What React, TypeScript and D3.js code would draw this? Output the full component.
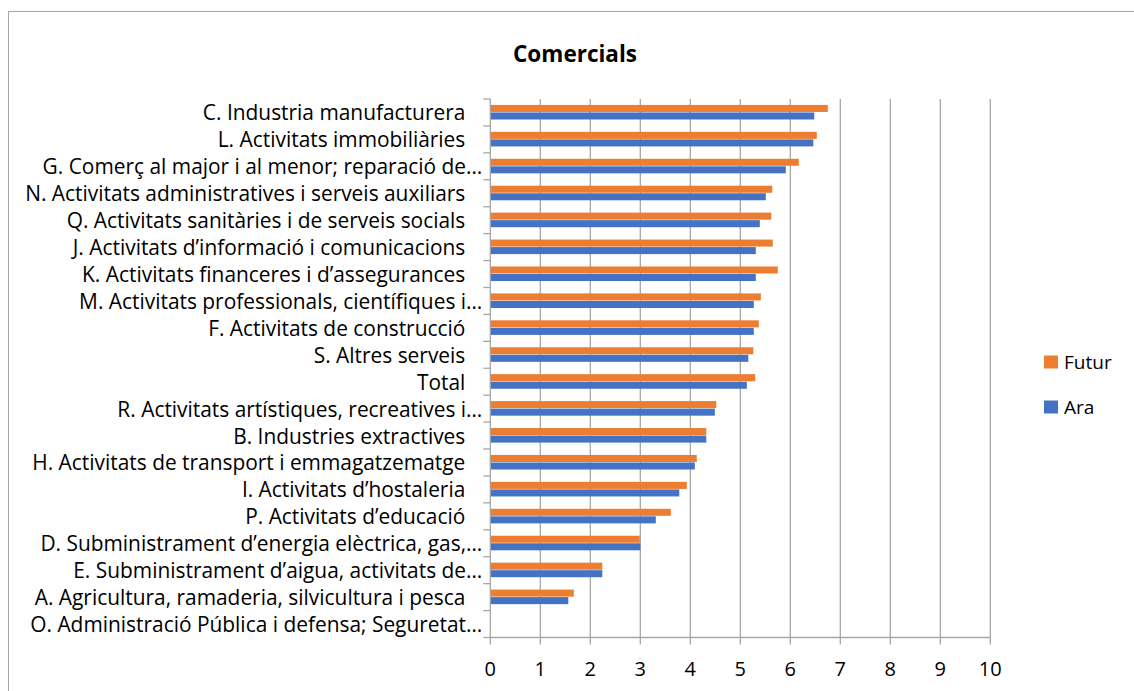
import { useEffect, useRef } from 'react';
import * as d3 from 'd3';

const categories = [
  "C. Industria manufacturera",
  "L. Activitats immobiliàries",
  "G. Comerç al major i al menor; reparació de…",
  "N. Activitats administratives i serveis auxiliars",
  "Q. Activitats sanitàries i de serveis socials",
  "J. Activitats d’informació i comunicacions",
  "K. Activitats financeres i d’assegurances",
  "M. Activitats professionals, científiques i…",
  "F. Activitats de construcció",
  "S. Altres serveis",
  "Total",
  "R. Activitats artístiques, recreatives i…",
  "B. Industries extractives",
  "H. Activitats de transport i emmagatzematge",
  "I. Activitats d’hostaleria",
  "P. Activitats d’educació",
  "D. Subministrament d’energia elèctrica, gas,…",
  "E. Subministrament d’aigua, activitats de…",
  "A. Agricultura, ramaderia, silvicultura i pesca",
  "O. Administració Pública i defensa; Seguretat…",
];

const futurValues = [6.75, 6.53, 6.17, 5.64, 5.62, 5.65, 5.75, 5.41, 5.37, 5.26, 5.30, 4.52, 4.32, 4.13, 3.93, 3.61, 2.99, 2.24, 1.67, 0];
const araValues = [6.48, 6.46, 5.91, 5.51, 5.39, 5.31, 5.31, 5.27, 5.27, 5.16, 5.13, 4.49, 4.32, 4.09, 3.78, 3.31, 3.0, 2.24, 1.56, 0];

const seriesNames = ["Futur", "Ara"];
const xTicks = [0, 1, 2, 3, 4, 5, 6, 7, 8, 9, 10];

const COLORS: Record<string, string> = { Futur: "#ED7D31", Ara: "#4472C4" };
const FONT = "'Open Sans', 'Noto Sans', sans-serif";

export default function App() {
  const svgRef = useRef<SVGSVGElement>(null);

  useEffect(() => {
    if (!svgRef.current) return;
    const svg = d3.select(svgRef.current);
    svg.selectAll("*").remove();

    const W = 1134, H = 691;
    const left = 490.3, right = 990.3, top = 99, bottom = 637.5;

    // chart area border
    svg.append("rect")
      .attr("x", 8.5).attr("y", 11.5)
      .attr("width", W).attr("height", H)
      .attr("fill", "#fff")
      .attr("stroke", "#a6a6a6");

    svg.append("text")
      .attr("x", 575).attr("y", 53)
      .attr("text-anchor", "middle").attr("dominant-baseline", "central")
      .style("font-family", FONT).style("font-weight", "bold").style("font-size", "22.5px")
      .attr("fill", "#000")
      .text("Comercials");

    const x = d3.scaleLinear().domain([0, 10]).range([left, right]);
    const y = d3.scaleBand().domain(categories).range([top, bottom])
      .paddingInner(0.44).paddingOuter(0.22);
    const ySub = d3.scaleBand().domain(seriesNames).range([0, y.bandwidth()]);
    const step = y.step();

    // vertical gridlines
    svg.append("g").selectAll("line")
      .data(xTicks.slice(1))
      .join("line")
      .attr("x1", d => x(d)).attr("x2", d => x(d))
      .attr("y1", top).attr("y2", bottom)
      .attr("stroke", "#a6a6a6").attr("stroke-width", 1.3);

    // bars
    const rows = categories.map((c, i) => ({ c, vals: [futurValues[i], araValues[i]] }));
    const groups = svg.append("g").selectAll("g")
      .data(rows)
      .join("g")
      .attr("transform", d => `translate(0,${y(d.c)})`);
    groups.selectAll("rect")
      .data(d => d.vals.map((v, k) => ({ s: seriesNames[k], v })))
      .join("rect")
      .attr("x", x(0))
      .attr("y", d => ySub(d.s)!)
      .attr("width", d => x(d.v) - x(0))
      .attr("height", ySub.bandwidth() - 0.5)
      .attr("fill", d => COLORS[d.s]);

    // y axis line + ticks
    svg.append("line")
      .attr("x1", left).attr("x2", left).attr("y1", top).attr("y2", bottom)
      .attr("stroke", "#a6a6a6").attr("stroke-width", 1.3);
    svg.append("g").selectAll("line")
      .data(d3.range(categories.length + 1))
      .join("line")
      .attr("x1", left - 7).attr("x2", left)
      .attr("y1", i => top + i * step).attr("y2", i => top + i * step)
      .attr("stroke", "#a6a6a6").attr("stroke-width", 1.3);

    // x axis line + ticks
    svg.append("line")
      .attr("x1", left).attr("x2", right).attr("y1", bottom).attr("y2", bottom)
      .attr("stroke", "#a6a6a6").attr("stroke-width", 1.3);
    svg.append("g").selectAll("line")
      .data(xTicks)
      .join("line")
      .attr("x1", d => x(d)).attr("x2", d => x(d))
      .attr("y1", bottom).attr("y2", bottom + 7)
      .attr("stroke", "#a6a6a6").attr("stroke-width", 1.3);

    svg.append("g").selectAll("text")
      .data(xTicks)
      .join("text")
      .attr("x", d => x(d)).attr("y", 668)
      .attr("text-anchor", "middle").attr("dominant-baseline", "central")
      .style("font-family", FONT).style("font-size", "20px")
      .attr("fill", "#000")
      .text(d => d);

    // category labels
    svg.append("g").selectAll("text")
      .data(categories)
      .join("text")
      .attr("x", d => d.endsWith("…") ? left - 8 : left - 25)
      .attr("y", d => y(d)! + y.bandwidth() / 2)
      .attr("text-anchor", "end").attr("dominant-baseline", "central")
      .style("font-family", FONT).style("font-size", "20.9px")
      .attr("fill", "#000")
      .text(d => d);

    // legend
    const legend = svg.append("g").selectAll("g")
      .data(seriesNames)
      .join("g")
      .attr("transform", (d, i) => `translate(1044,${362 + i * 45})`);
    legend.append("rect")
      .attr("x", 0).attr("y", -6.5).attr("width", 14).attr("height", 13)
      .attr("fill", d => COLORS[d]);
    legend.append("text")
      .attr("x", 20).attr("y", 0)
      .attr("dominant-baseline", "central")
      .style("font-family", FONT).style("font-size", "19px")
      .attr("fill", "#000")
      .text(d => d);
  }, []);

  return (
    <div style={{ position: "absolute", left: 0, top: 0, width: 1134, height: 691, background: "#fff" }}>
      <svg ref={svgRef} width={1134} height={691} style={{ display: "block" }} />
    </div>
  );
}
